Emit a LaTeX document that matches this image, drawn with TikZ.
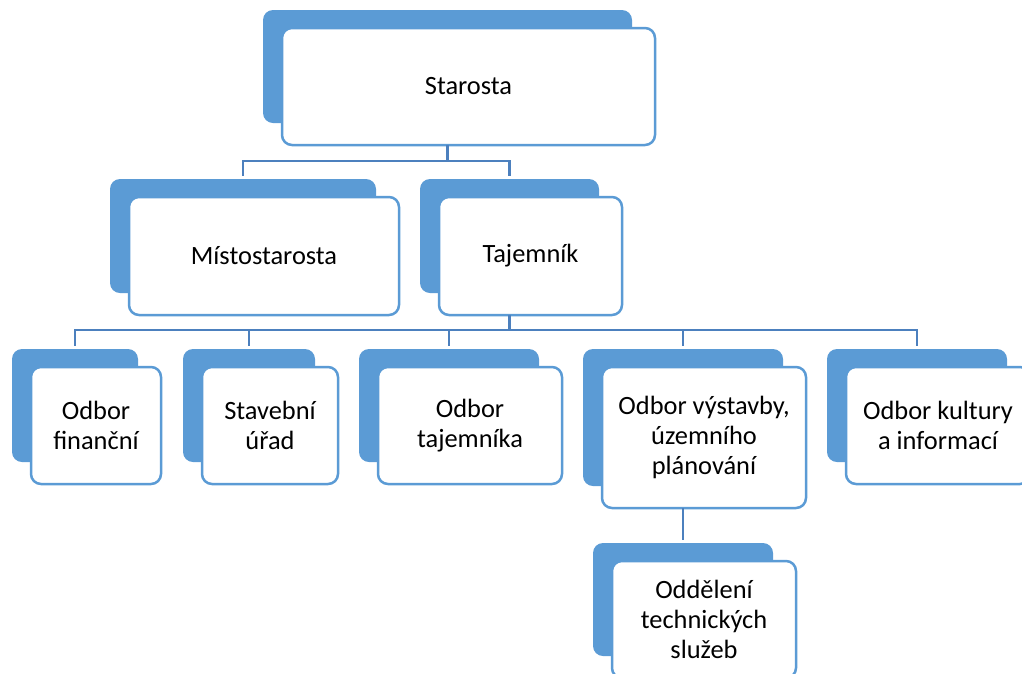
\documentclass[tikz,border=0pt]{standalone}
\usepackage{fontspec}
\setmainfont{Carlito}
\usetikzlibrary{calc}
\definecolor{accent}{HTML}{5B9BD5}
\definecolor{linkblue}{HTML}{4C80BE}
\tikzset{
  backbox/.style={rectangle, rounded corners=10pt, fill=accent, draw=none,
    inner sep=0pt, outer sep=0pt},
  frontbox/.style={rectangle, rounded corners=10pt, fill=white, draw=accent,
    line width=2.5pt, inner sep=0pt, outer sep=0pt, align=center,
    font=\fontsize{26.4}{30}\selectfont},
  conn/.style={draw=linkblue, line width=2.5pt, shorten >=3pt}
}
% #1 name, #2/#3 centre of the back tab, #4/#5 its size, #6 label
\newcommand{\orgunit}[6]{%
  \node[backbox, minimum width=#4pt, minimum height=#5pt] (#1-b) at (#2,#3) {};
  \node[frontbox, minimum width=#4pt+4pt, minimum height=#5pt+4pt]
    (#1) at (#2+21,#3+20) {#6};
}
\begin{document}
\begin{tikzpicture}[x=1pt,y=-1pt]
  \useasboundingbox (0,0) rectangle (1022,673);
  \clip (0,0) rectangle (1022,673);

  % level 1
  \orgunit{starosta}{447.5}{66.5}{369}{113}{Starosta}
  % level 2
  \orgunit{misto}{243}{236}{266}{114}{Místostarosta}
  \orgunit{tajemnik}{509.5}{236}{179}{114}{Tajemník}
  % level 3
  \orgunit{fin}{75}{405.5}{126}{113}{Odbor\\finanční}
  \orgunit{stav}{249}{405.5}{132}{113}{Stavební\\úřad}
  \orgunit{otaj}{449}{405.5}{180}{113}{Odbor\\tajemníka}
  \orgunit{vyst}{683}{417.5}{200}{137}{Odbor výstavby,\\územního\\plánování}
  \orgunit{kult}{917}{405.5}{180}{113}{Odbor kultury\\a informací}
  % level 4
  \orgunit{odd}{683}{599.5}{180}{113}{Oddělení\\technických\\služeb}

  % bus lines
  \coordinate (bus1) at (0,161);
  \coordinate (bus2) at (0,330);

  \foreach \c in {misto, tajemnik}
    \draw[conn] (starosta-b.center |- starosta.south) -- (starosta-b.center |- bus1) -| (\c-b.north);
  \foreach \c in {fin, stav, otaj, vyst, kult}
    \draw[conn] (tajemnik-b.center |- tajemnik.south) -- (tajemnik-b.center |- bus2) -| (\c-b.north);
  \draw[conn] (vyst-b.center |- vyst.south) -- (odd-b.north);
\end{tikzpicture}
\end{document}
